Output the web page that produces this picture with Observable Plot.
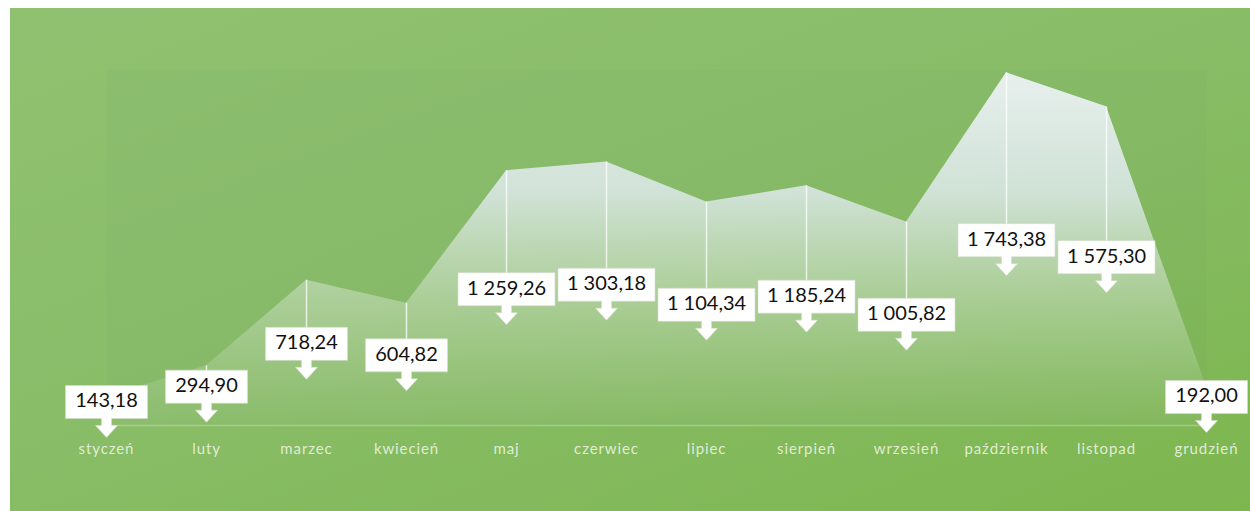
<!DOCTYPE html>
<html>
<head>
<meta charset="utf-8">
<script src="https://cdn.jsdelivr.net/npm/d3@7"></script>
<script src="https://cdn.jsdelivr.net/npm/@observablehq/plot@0.6"></script>
<style>
  body { margin: 0; background: #ffffff; }
  #chart { padding-left: 10px; padding-top: 8px; }
  #chart g[aria-label="x-axis tick label"] text { letter-spacing: 0.9px; }
</style>
</head>
<body>
<div id="chart"></div>
<script>
const months = ["styczeń", "luty", "marzec", "kwiecień", "maj", "czerwiec", "lipiec", "sierpień", "wrzesień", "październik", "listopad", "grudzień"];
const values = [143.18, 294.90, 718.24, 604.82, 1259.26, 1303.18, 1104.34, 1185.24, 1005.82, 1743.38, 1575.30, 192.00];

const pl = d3.formatLocale({decimal: ",", thousands: "\u00a0", grouping: [3], currency: ["", " zł"]});
const fmt = pl.format(",.2f");

const data = months.map((m, i) => ({month: m, value: values[i], label: fmt(values[i])}));

function callout(w) {
  const h = 33;
  return {
    draw(ctx) {
      const b = h / 2;
      ctx.moveTo(-w / 2, -b);
      ctx.lineTo(w / 2, -b);
      ctx.lineTo(w / 2, b);
      ctx.lineTo(5, b);
      ctx.lineTo(5, b + 7);
      ctx.lineTo(11, b + 7);
      ctx.lineTo(0, b + 19);
      ctx.lineTo(-11, b + 7);
      ctx.lineTo(-5, b + 7);
      ctx.lineTo(-5, b);
      ctx.lineTo(-w / 2, b);
      ctx.closePath();
    }
  };
}

const W = 1240, H = 503, mTop = 61, mBottom = 86;

const defs = () => {
  const d = d3.create("svg:defs");
  const g = d.append("linearGradient").attr("id", "areaGrad")
    .attr("gradientUnits", "userSpaceOnUse")
    .attr("x1", 0).attr("x2", 0).attr("y1", mTop).attr("y2", H - mBottom);
  g.append("stop").attr("offset", "0%").attr("stop-color", "#eef3f6").attr("stop-opacity", 0.95);
  g.append("stop").attr("offset", "35%").attr("stop-color", "#dde9ea").attr("stop-opacity", 0.85);
  g.append("stop").attr("offset", "65%").attr("stop-color", "#cfe2c8").attr("stop-opacity", 0.5);
  g.append("stop").attr("offset", "100%").attr("stop-color", "#c2dcb0").attr("stop-opacity", 0.08);
  return d.node();
};

const isLong = d => d.value >= 1000;

const chart = Plot.plot({
  width: W,
  height: H,
  marginLeft: 96,
  marginRight: 44,
  marginTop: mTop,
  marginBottom: mBottom,
  style: {
    background: "linear-gradient(160deg, #90c170 0%, #89bd68 45%, #7db64f 100%)",
    fontFamily: "Lato, 'Open Sans', sans-serif",
    overflow: "visible"
  },
  x: {type: "point", domain: months, padding: 0},
  y: {domain: [0, 1760], axis: null},
  marks: [
    defs,
    Plot.frame({fill: "#5f8f78", fillOpacity: 0.05, stroke: null}),
    Plot.areaY(data, {x: "month", y: "value", fill: "url(#areaGrad)"}),
    Plot.ruleY([0], {stroke: "#e8f2dc", strokeOpacity: 0.35, strokeWidth: 1.5}),
    Plot.ruleX(data, {x: "month", y1: d => d.value / 2, y2: "value", stroke: "#ffffff", strokeOpacity: 0.75, strokeWidth: 1.5}),
    Plot.dot(data.filter(d => !isLong(d)), {x: "month", y: d => d.value / 2, dy: -9, symbol: callout(82), r: 10, fill: "#ffffff", stroke: "#d8dccf", strokeWidth: 0.6}),
    Plot.dot(data.filter(isLong), {x: "month", y: d => d.value / 2, dy: -9, symbol: callout(97), r: 10, fill: "#ffffff", stroke: "#d8dccf", strokeWidth: 0.6}),
    Plot.text(data, {x: "month", y: d => d.value / 2, dy: -10, text: "label", fontSize: 20, fill: "#111111", fontFamily: "Lato, sans-serif"}),
    Plot.axisX({tickSize: 0, tickPadding: 18, fontSize: 15, fill: "#e6f0de", fillOpacity: 0.95, label: null})
  ]
});

document.getElementById("chart").append(chart);
</script>
</body>
</html>
